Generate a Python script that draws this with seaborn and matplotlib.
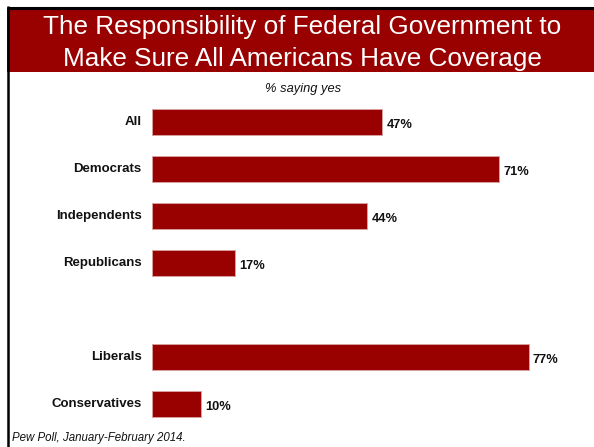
import matplotlib
matplotlib.use("Agg")
import matplotlib.pyplot as plt
import seaborn as sns
import pandas as pd
from matplotlib.patches import Rectangle
from matplotlib.lines import Line2D

categories = ["All", "Democrats", "Independents", "Republicans", "Liberals", "Conservatives"]
values = [47, 71, 44, 17, 77, 10]
order = ["All", "Democrats", "Independents", "Republicans", " ", "Liberals", "Conservatives"]
value_labels = [f"{v}%" for v in values]

title_lines = ["The Responsibility of Federal Government to", "Make Sure All Americans Have Coverage"]
subtitle = "% saying yes"
footnote = "Pew Poll, January-February 2014."

sns.set_theme(style="white")
plt.rcParams['font.family'] = ['Liberation Sans', 'DejaVu Sans']

W, H = 594, 447
fig = plt.figure(figsize=(W / 100, H / 100), dpi=100)

def fx(px):
    return px / W

def fy(py):
    return 1 - py / H

# banner
fig.patches.append(Rectangle((fx(7), fy(72)), 1 - fx(7), fy(8.5) - fy(72),
                             transform=fig.transFigure, facecolor="#990000", edgecolor="none", zorder=0))
fig.lines.append(Line2D([fx(7), 1], [fy(7.5), fy(7.5)], transform=fig.transFigure, color="black",
                        lw=2.2, solid_capstyle="butt"))
fig.lines.append(Line2D([fx(8.3), fx(8.3)], [fy(6), 0], transform=fig.transFigure, color="black",
                        lw=1.8, solid_capstyle="butt"))
fig.text(fx(302.5), fy(34), title_lines[0], ha="center", va="baseline", color="white", fontsize=18.8)
fig.text(fx(302.5), fy(66), title_lines[1], ha="center", va="baseline", color="white", fontsize=18.8)

# axes
left, right = 152, 594
top, bottom = 121.8 - 23.5, 403.7 + 23.5
ax = fig.add_axes([fx(left), fy(bottom), fx(right) - fx(left), fy(top) - fy(bottom)])
df = pd.DataFrame({"group": categories, "value": values})
sns.barplot(data=df, y="group", x="value", order=order, orient="h", color="#990000",
            saturation=1, width=0.553, edgecolor="#d8a0a0", linewidth=0.7, ax=ax)
scale = 4.89
ax.set_xlim(0, (right - left) / scale)
ax.set_ylim(6.5, -0.5)
for s in ax.spines.values():
    s.set_visible(False)
ax.set_xticks([])
ax.set_xlabel("")
ax.set_ylabel("")
ax.set_yticks([])

for cat, v, t in zip(categories, values, value_labels):
    yi = order.index(cat)
    ax.annotate(cat, (0, yi), xytext=(-7.5, -2.3), textcoords="offset points", ha="right", va="baseline",
                fontsize=9.5, fontweight="bold", color="#111111", annotation_clip=False)
    ax.annotate(t, (v, yi), xytext=(3.2, -4.3), textcoords="offset points", ha="left", va="baseline",
                fontsize=9.3, fontweight="bold", color="#111111")

fig.text(fx(303), fy(89), subtitle, ha="center", va="center", fontsize=9.3, style="italic", color="#111111")
fig.text(fx(12.5), fy(440.5), footnote, ha="left", va="baseline", fontsize=8.3, style="italic", color="#111111")

fig.savefig("out.png", dpi=100)
